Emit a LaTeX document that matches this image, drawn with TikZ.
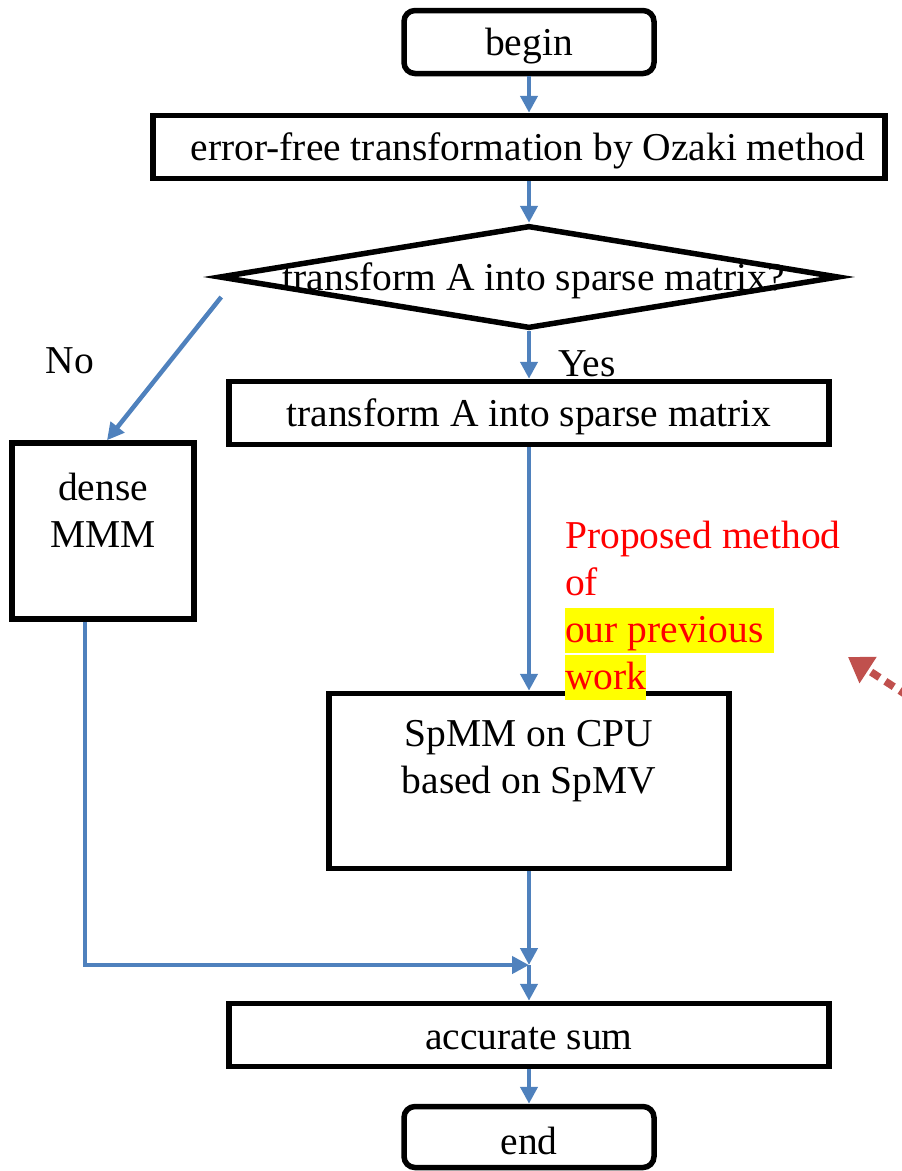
\documentclass[tikz,border=0pt]{standalone}
\usepackage{fontspec}
\setmainfont{Liberation Serif}
\usetikzlibrary{arrows.meta,shapes.geometric,calc}
\definecolor{flowblue}{RGB}{79,129,189}
\definecolor{dotred}{RGB}{192,80,77}
\definecolor{hiyellow}{RGB}{255,255,0}
\tikzset{
  txt/.style={font=\fontsize{39.5}{47}\selectfont, inner sep=0pt},
  boxnode/.style={draw=black, line width=5.5pt, inner sep=0pt},
  roundbox/.style={boxnode, rounded corners=11pt},
  flow/.style={draw=flowblue, line width=4.5pt, -{Triangle[length=17pt,width=17pt]}},
  redarrow/.style={draw=dotred, line width=7.5pt, dash pattern=on 10pt off 7pt, -{Triangle[length=24pt,width=30pt]}},
}
\begin{document}
\begin{tikzpicture}[x=1pt,y=-1pt]
\useasboundingbox (0,0) rectangle (902,1171);

\node[roundbox, minimum width=250pt, minimum height=63pt] (begin) at (529,42) {};
\node[txt] (begintext) at (529,46) {begin};

\node[boxnode, minimum width=732pt, minimum height=63pt] (eft) at (519,147) {};
\node[txt] (efttext) at (528,151) {error-free transformation by Ozaki method};

\node[draw=black, line width=5.5pt, shape=diamond, inner sep=0pt, minimum width=620pt, minimum height=103pt] (d) at (529,277) {};
\node[txt] (dtext) at (534,281) {transform A into sparse matrix?};

\node[boxnode, minimum width=600pt, minimum height=63pt] (tr) at (529,413) {};
\node[txt] (trtext) at (529,417) {transform A into sparse matrix};

\node[boxnode, minimum width=182pt, minimum height=176pt] (dense) at (103,531) {};
\node[txt, align=center, anchor=north] (densetext) at (103,473) {dense\\MMM};

\node[boxnode, minimum width=400pt, minimum height=175pt] (sp) at (529,781) {};
\node[txt, align=center, anchor=north] (sptext) at (529,720) {SpMM on CPU\\based on SpMV};

\node[boxnode, minimum width=600pt, minimum height=63pt] (acc) at (529,1035) {};
\node[txt] (acctext) at (529,1039) {accurate sum};

\node[roundbox, minimum width=250pt, minimum height=61pt] (end) at (529,1137) {};
\node[txt] (endtext) at (529,1141) {end};

\node[txt] (no) at (70,361) {No};
\node[txt] (yes) at (587,364) {Yes};

\node[txt, text=red, align=left, anchor=north west] (prop) at (565,521) {%
Proposed method\\
of\\
{\setlength\fboxsep{0pt}\colorbox{hiyellow}{\rule[-10pt]{0pt}{45pt}our previous\ }}\\
{\setlength\fboxsep{0pt}\colorbox{hiyellow}{\rule[-10pt]{0pt}{45pt}work}}};

\coordinate (m) at (529,965);
\coordinate (redstart) at (908,696);
\coordinate (redtip) at (848,657);

\draw[flow] (begin.south) -- (begin.south |- eft.north);
\draw[flow] (begin.south |- eft.south) -- (d.north);
\draw[flow] ($(d.west)+(5pt,-20pt)$) -- ([xshift=4pt]dense.north);
\draw[flow] (d.south) -- (tr.north);
\draw[flow] (tr.south) -- (sp.north);
\draw[flow] (sp.south) -- (m);
\draw[flow] ([xshift=-18pt]dense.south) |- (m);
\draw[flow] (m) -- (acc.north);
\draw[flow] (acc.south) -- (end.north);
\draw[redarrow] (redstart) -- (redtip);
\end{tikzpicture}
\end{document}
